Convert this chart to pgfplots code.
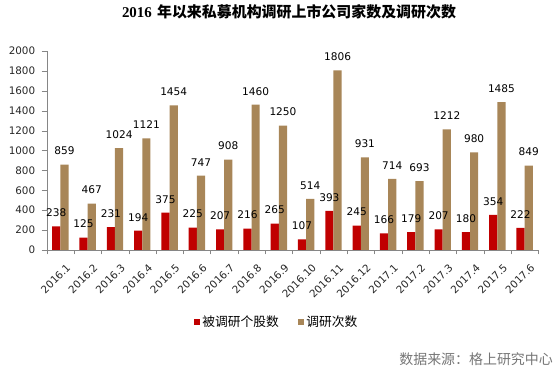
\documentclass[border=0pt]{standalone}
\usepackage{fontspec}
\setmainfont{DejaVu Sans}
\newfontfamily\cjk{Noto Sans CJK SC}
\newfontfamily\titlenum{Liberation Serif}
\usepackage{pgfplots}
\pgfplotsset{compat=1.18}
\definecolor{cred}{RGB}{192,0,0}
\definecolor{cbrown}{RGB}{168,134,88}
\definecolor{axgray}{RGB}{134,134,134}
\definecolor{srcgray}{RGB}{118,118,118}

\pgfplotstableread{
x y
0 238
1 125
2 231
3 194
4 375
5 225
6 207
7 216
8 265
9 107
10 393
11 245
12 166
13 179
14 207
15 180
16 354
17 222
}\stocks
\pgfplotstableread{
x y
0 859
1 467
2 1024
3 1121
4 1454
5 747
6 908
7 1460
8 1250
9 514
10 1806
11 931
12 714
13 693
14 1212
15 980
16 1485
17 849
}\visits

\begin{document}
\begin{tikzpicture}
\path[use as bounding box] (0bp,0bp) rectangle (557bp,371bp);
\begin{axis}[
  at={(46.7bp,121bp)}, anchor=south west,
  scale only axis, width=491.6bp, height=199bp,
  ymin=0, ymax=2000,
  ytick={0,200,...,2000},
  xmin=-0.5, xmax=17.5,
  axis lines*=left,
  axis line style={axgray},
  tick align=outside,
  ybar=0pt,
  bar width=8.2bp,
  xtick={0,...,17},
  xticklabels={2016.1,2016.2,2016.3,2016.4,2016.5,2016.6,2016.7,2016.8,2016.9,2016.10,2016.11,2016.12,2017.1,2017.2,2017.3,2017.4,2017.5,2017.6},
  major x tick style={draw=none},
  minor xtick={-0.5,0.5,...,17.5},
  minor x tick style={axgray},
  minor tick length=4.5bp,
  y tick style={axgray},
  major tick length=5bp,
  /pgf/number format/assume math mode=true,
  /pgf/number format/1000 sep={},
  tick label style={font=\fontsize{10.4}{12}\selectfont, text=black!85},
  y tick label style={xshift=-3bp},
  x tick label style={rotate=45, anchor=north east, yshift=-6bp, xshift=1.5bp},
  nodes near coords,
  every node near coord/.append style={font=\fontsize{10.6}{12}\selectfont, text=black, anchor=south, yshift=6bp, /pgf/number format/assume math mode=true},
  legend style={at={(0.4675,-0.362)}, anchor=center, draw=none, fill=none,
    legend columns=2, font=\cjk\fontsize{12.8}{14}\selectfont,
    /tikz/every even column/.append style={column sep=17bp}},
  legend image code/.code={\fill[#1] (0bp,-3.3bp) rectangle (6.6bp,3.3bp);},
]
\addplot[fill=cred, draw=none] table[x=x,y=y] {\stocks};
\addlegendentry{被调研个股数}
\addplot[fill=cbrown, draw=none] table[x=x,y=y] {\visits};
\addlegendentry{调研次数}
\end{axis}
\node[font=\bfseries\fontsize{15}{17}\selectfont] at (289bp,359bp) {{\titlenum 2016} {\cjk 年以来私募机构调研上市公司家数及调研次数}};
\node[anchor=east, text=srcgray, font=\cjk\fontsize{14}{16}\selectfont, inner sep=0pt] at (553bp,11.5bp) {数据来源：格上研究中心};
\end{tikzpicture}
\end{document}
